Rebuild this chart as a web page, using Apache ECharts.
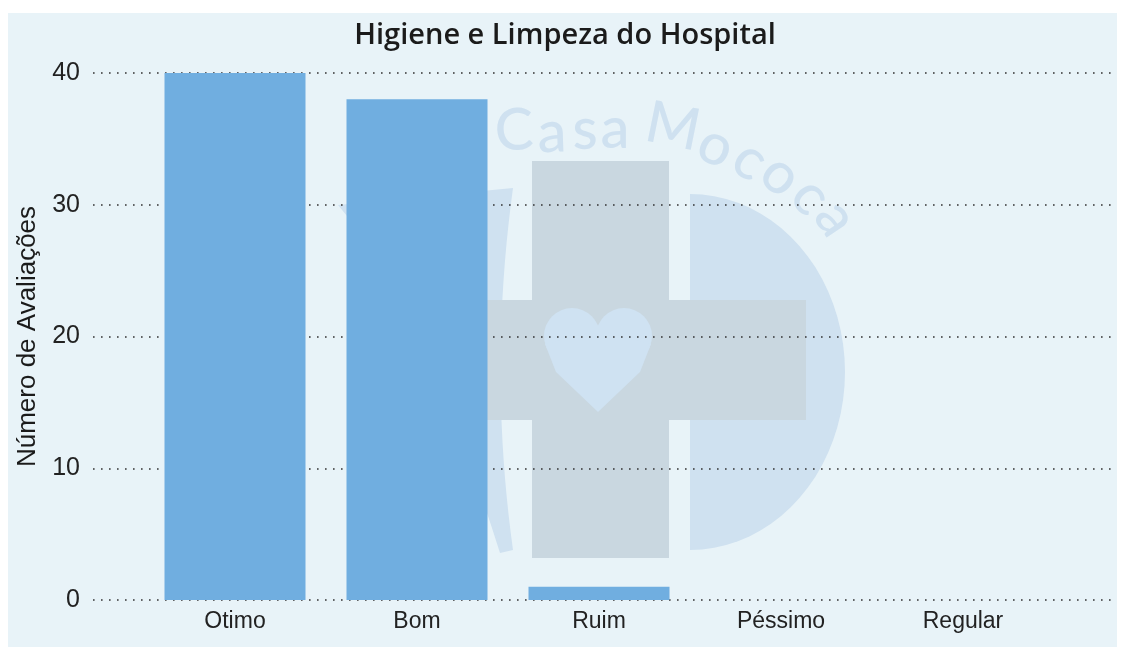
<!DOCTYPE html>
<html>
<head>
<meta charset="utf-8">
<script src="https://cdn.jsdelivr.net/npm/echarts@6/dist/echarts.min.js"></script>
<style>html,body{margin:0;padding:0;background:#fff}#c{width:1130px;height:655px}</style>
</head>
<body>
<div id="c"></div>
<script>
const title = 'Higiene e Limpeza do Hospital';
const categories = ['Otimo', 'Bom', 'Ruim', 'Péssimo', 'Regular'];
const values = [40, 38, 1, 0, 0];
const yTicks = [0, 10, 20, 30, 40];
const yAxisName = 'Número de Avaliações';
const watermarkText = 'Casa Mococa';

const chart = echarts.init(document.getElementById('c'));

const wmColor = '#cfe1f0';
const crossColor = '#c9d7e0';

// --- decorative watermark shapes ---
function halfEllipse(cx, cy, rx, ry) {
  const pts = [];
  for (let i = 0; i <= 40; i++) {
    const a = -Math.PI / 2 + Math.PI * i / 40;
    pts.push([cx + rx * Math.cos(a), cy + ry * Math.sin(a)]);
  }
  return pts;
}
function quad(p0, p1, p2, n) {
  const pts = [];
  for (let i = 0; i <= n; i++) {
    const t = i / n;
    pts.push([(1-t)*(1-t)*p0[0] + 2*(1-t)*t*p1[0] + t*t*p2[0], (1-t)*(1-t)*p0[1] + 2*(1-t)*t*p1[1] + t*t*p2[1]]);
  }
  return pts;
}
const rightPiece = halfEllipse(690, 372, 155, 178);
const leftPiece = [[338, 205]].concat(quad([513, 188], [488, 370], [513, 550], 20), quad([500, 553], [420, 300], [338, 205], 20));

const letterPos = [
  [514,131,0.04],[552,133,0.03],[585,130,0.02],[615,129,0.0],[0,0,0],
  [673,127,-0.2],[716,146,-0.42],[750,160,-0.6],[781,175,-0.72],[811,196,-0.85],[836,218,-0.98]
];
const wmLetters = watermarkText.split('').map((ch, i) => ch === ' ' ? null : ({
  type: 'text', x: letterPos[i][0], y: letterPos[i][1], rotation: letterPos[i][2], z: -10, silent: true,
  style: { text: ch, fontSize: 58, fontFamily: 'Lato', fontWeight: 500, fill: wmColor, align: 'center', verticalAlign: 'middle' }
})).filter(Boolean);

chart.setOption({
  backgroundColor: '#ffffff',
  animation: false,
  title: {
    text: title, left: 'center', top: 21, padding: 0,
    textStyle: { fontFamily: 'Open Sans', fontWeight: 600, fontSize: 29, color: '#1b1b1b' }
  },
  graphic: [
    { type: 'rect', z: -20, silent: true, shape: { x: 8, y: 13, width: 1109, height: 634 }, style: { fill: '#e8f3f8' } },
    { type: 'polygon', z: -12, silent: true, shape: { points: rightPiece }, style: { fill: wmColor } },
    { type: 'polygon', z: -12, silent: true, shape: { points: leftPiece }, style: { fill: wmColor } },
    { type: 'rect', z: -11, silent: true, shape: { x: 532, y: 161, width: 137, height: 397 }, style: { fill: crossColor } },
    { type: 'rect', z: -11, silent: true, shape: { x: 394, y: 300, width: 412, height: 120 }, style: { fill: crossColor } },
    { type: 'circle', z: -10, silent: true, shape: { cx: 572, cy: 336, r: 28 }, style: { fill: '#cfe2f2' } },
    { type: 'circle', z: -10, silent: true, shape: { cx: 624, cy: 336, r: 28 }, style: { fill: '#cfe2f2' } },
    { type: 'polygon', z: -10, silent: true, shape: { points: [[545, 344], [598, 330], [651, 344], [640, 372], [598, 412], [556, 372]] }, style: { fill: '#cfe2f2' } },
    ...wmLetters
  ],
  grid: [
    { left: 93, right: 18, top: 73, bottom: 55 },
    { left: 144, right: 76, top: 73, bottom: 55 }
  ],
  xAxis: [
    { type: 'value', gridIndex: 0, show: false, min: 0, max: 1 },
    { type: 'category', gridIndex: 1, data: categories,
      axisLine: { show: false }, axisTick: { show: false },
      axisLabel: { margin: 10, fontFamily: 'Liberation Sans', fontSize: 23, color: '#222' } }
  ],
  yAxis: [
    { type: 'value', gridIndex: 0, min: yTicks[0], max: yTicks[yTicks.length - 1], interval: 10,
      name: yAxisName, nameLocation: 'middle', nameGap: 50,
      nameTextStyle: { fontFamily: 'Liberation Sans', fontSize: 26, color: '#1b1b1b' },
      axisLine: { show: false }, axisTick: { show: false },
      axisLabel: { margin: 13, fontFamily: 'Liberation Sans', fontSize: 25, color: '#222' },
      splitLine: { show: true, lineStyle: { color: '#333', width: 1.6, type: [1.6, 6.4] } } },
    { type: 'value', gridIndex: 1, min: yTicks[0], max: yTicks[yTicks.length - 1], interval: 10, show: false,
      splitLine: { show: false } }
  ],
  series: [{
    type: 'bar', xAxisIndex: 1, yAxisIndex: 1, data: values, barWidth: 141,
    itemStyle: { color: '#70aee0' }, z: 5
  }]
});
</script>
</body>
</html>
